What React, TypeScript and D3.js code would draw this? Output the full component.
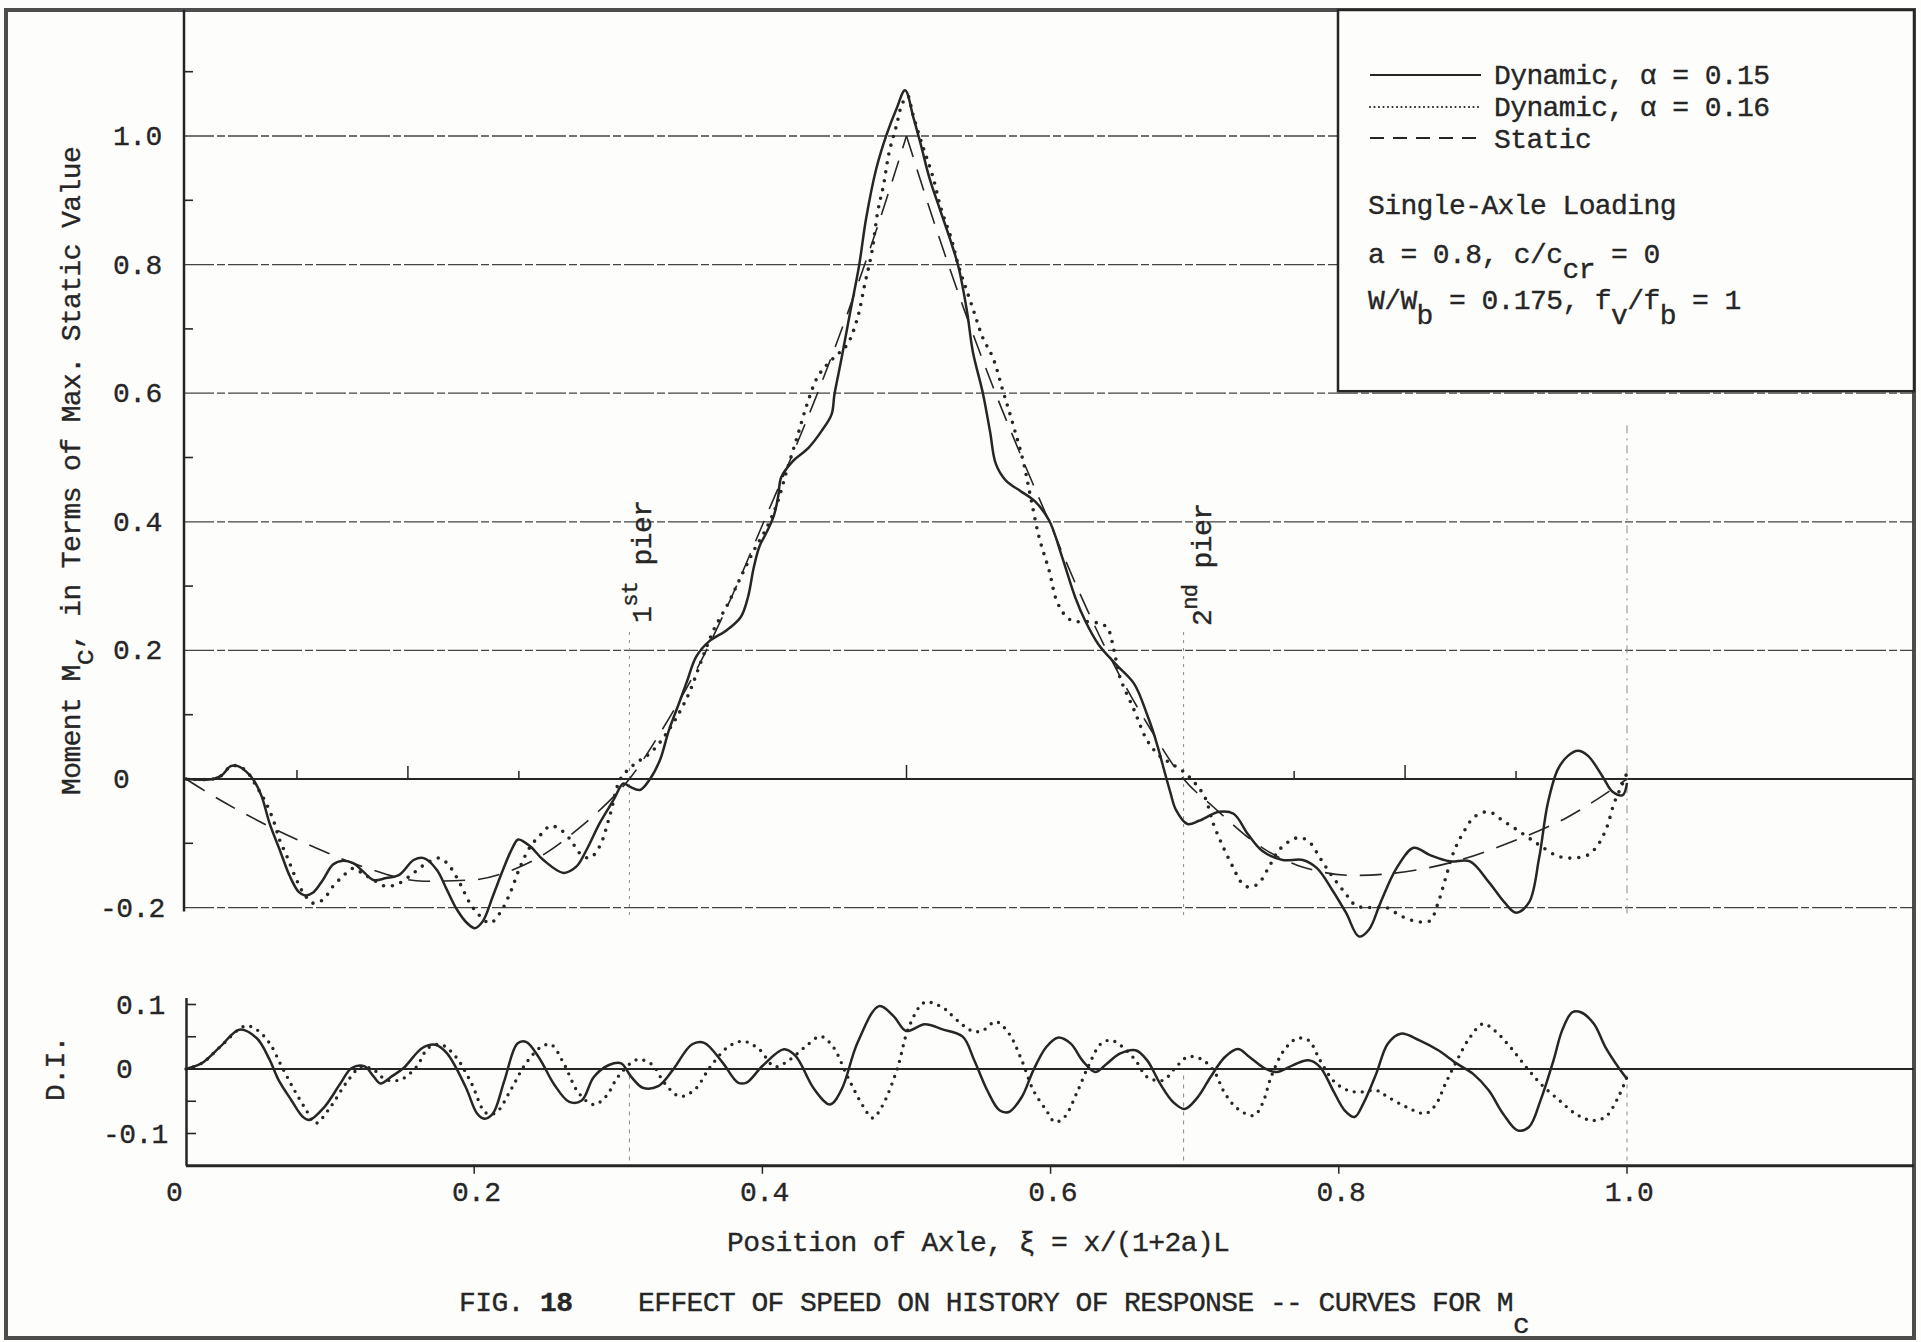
import React from 'react';
import * as d3 from 'd3';

type P = [number, number];

// ---------- tick values / labels ----------
const X_TICKS = [0.2, 0.4, 0.6, 0.8, 1.0];
const X_TICK_LABELS = ['0', '0.2', '0.4', '0.6', '0.8', '1.0'];
const X_LABEL_VALUES = [0, 0.2, 0.4, 0.6, 0.8, 1.0];
const M_GRID = [1.0, 0.8, 0.6, 0.4, 0.2, 0, -0.2];
const M_GRID_LABELS = ['1.0', '0.8', '0.6', '0.4', '0.2', '0', '-0.2'];
const M_MINOR = [1.1, 0.9, 0.7, 0.5, 0.3, 0.1, -0.1];
const DI_TICKS = [0.1, 0.05, 0, -0.05, -0.1];
const DI_LABEL_VALUES = [0.1, 0, -0.1];
const DI_LABELS = ['0.1', '0', '-0.1'];
const PIERS = [0.3077, 0.6923];
const ZERO_LINE_TICKS = [0.077, 0.154, 0.231, 0.5, 0.769, 0.846, 0.923];
const ZERO_LINE_TICK_LEN = [9, 13, 8, 14, 8, 14, 8];

// ---------- main panel: moment Mc ----------
const M_DYN_015: P[] = [
  [0, 0], [0.019, 0.0], [0.025, 0.006], [0.031, 0.02], [0.036, 0.02], [0.042, 0.011], [0.047, -0.002],
  [0.0525, -0.027], [0.058, -0.069], [0.065, -0.11], [0.072, -0.151], [0.078, -0.175], [0.0826, -0.181],
  [0.088, -0.177], [0.095, -0.157], [0.102, -0.133], [0.109, -0.127], [0.116, -0.131], [0.123, -0.144],
  [0.13, -0.157], [0.139, -0.154], [0.148, -0.149], [0.158, -0.126], [0.165, -0.123], [0.174, -0.141],
  [0.181, -0.172], [0.188, -0.203], [0.195, -0.224], [0.2005, -0.232], [0.206, -0.221], [0.213, -0.182],
  [0.22, -0.141], [0.227, -0.105], [0.2306, -0.094], [0.239, -0.105], [0.248, -0.126], [0.262, -0.146],
  [0.271, -0.136], [0.278, -0.11], [0.287, -0.069], [0.2966, -0.033], [0.3035, -0.007], [0.308, -0.012],
  [0.315, -0.017], [0.322, 0.0], [0.329, 0.03], [0.335, 0.075], [0.342, 0.117], [0.348, 0.154],
  [0.354, 0.19], [0.363, 0.214], [0.375, 0.231], [0.385, 0.252], [0.39, 0.283], [0.394, 0.329],
  [0.398, 0.362], [0.403, 0.384], [0.408, 0.41], [0.411, 0.44], [0.413, 0.469], [0.421, 0.494],
  [0.432, 0.515], [0.441, 0.541], [0.448, 0.567], [0.45, 0.598], [0.455, 0.655], [0.461, 0.727],
  [0.467, 0.797], [0.472, 0.872], [0.479, 0.949], [0.486, 1.001], [0.493, 1.042], [0.499, 1.071],
  [0.505, 1.027], [0.51, 0.986], [0.516, 0.934], [0.523, 0.887], [0.53, 0.841], [0.536, 0.797],
  [0.542, 0.727], [0.546, 0.665], [0.553, 0.6], [0.558, 0.54], [0.562, 0.49], [0.569, 0.464],
  [0.579, 0.448], [0.589, 0.432], [0.599, 0.402], [0.608, 0.345], [0.617, 0.283], [0.624, 0.246],
  [0.633, 0.21], [0.645, 0.179], [0.658, 0.148], [0.667, 0.1], [0.671, 0.075], [0.675, 0.045],
  [0.679, 0.012], [0.683, -0.02], [0.687, -0.048], [0.695, -0.07], [0.703, -0.065], [0.717, -0.051],
  [0.727, -0.054], [0.737, -0.086], [0.747, -0.112], [0.761, -0.126], [0.775, -0.126], [0.785, -0.139],
  [0.795, -0.171], [0.805, -0.208], [0.814, -0.245], [0.821, -0.234], [0.829, -0.192], [0.84, -0.139],
  [0.852, -0.107], [0.863, -0.118], [0.877, -0.128], [0.891, -0.128], [0.904, -0.16], [0.915, -0.192],
  [0.923, -0.208], [0.932, -0.192], [0.939, -0.123], [0.945, -0.038], [0.952, 0.015], [0.959, 0.036],
  [0.966, 0.044], [0.973, 0.036], [0.983, 0.004], [0.99, -0.02], [0.997, -0.025], [1.0, -0.006],
];

const M_DYN_016: P[] = [
  [0, 0], [0.019, 0.0], [0.025, 0.006], [0.031, 0.02], [0.036, 0.02], [0.042, 0.012], [0.049, -0.012],
  [0.055, -0.035], [0.0606, -0.064], [0.065, -0.095], [0.07, -0.12], [0.0756, -0.151], [0.0814, -0.177],
  [0.088, -0.193], [0.095, -0.188], [0.102, -0.167], [0.109, -0.151], [0.116, -0.139], [0.122, -0.146],
  [0.13, -0.157], [0.139, -0.167], [0.148, -0.162], [0.158, -0.146], [0.167, -0.131], [0.176, -0.123],
  [0.183, -0.136], [0.19, -0.162], [0.197, -0.193], [0.204, -0.213], [0.211, -0.224], [0.218, -0.208],
  [0.225, -0.177], [0.232, -0.136], [0.239, -0.105], [0.246, -0.087], [0.253, -0.073], [0.26, -0.079],
  [0.267, -0.095], [0.273, -0.115], [0.28, -0.123], [0.287, -0.105], [0.294, -0.058], [0.301, -0.002],
  [0.308, 0.017], [0.315, 0.029], [0.323, 0.042], [0.335, 0.076], [0.348, 0.128], [0.357, 0.18],
  [0.366, 0.231], [0.376, 0.272], [0.385, 0.314], [0.394, 0.355], [0.403, 0.391], [0.41, 0.427],
  [0.417, 0.48], [0.424, 0.531], [0.431, 0.583], [0.438, 0.624], [0.445, 0.645], [0.452, 0.66],
  [0.459, 0.676], [0.466, 0.717], [0.471, 0.769], [0.476, 0.82], [0.48, 0.882], [0.484, 0.923],
  [0.488, 0.975], [0.493, 1.016], [0.497, 1.05], [0.501, 1.062], [0.504, 1.037], [0.511, 0.986],
  [0.518, 0.939], [0.524, 0.887], [0.531, 0.841], [0.536, 0.799], [0.546, 0.732], [0.553, 0.686],
  [0.56, 0.655], [0.567, 0.603], [0.574, 0.551], [0.581, 0.494], [0.586, 0.44], [0.592, 0.376],
  [0.599, 0.324], [0.605, 0.273], [0.614, 0.247], [0.63, 0.244], [0.639, 0.236], [0.644, 0.2],
  [0.648, 0.159], [0.658, 0.107], [0.667, 0.06], [0.676, 0.035], [0.683, 0.025], [0.693, 0.01],
  [0.7, -0.006], [0.707, -0.028], [0.713, -0.07], [0.72, -0.107], [0.727, -0.139], [0.732, -0.16],
  [0.737, -0.168], [0.744, -0.163], [0.751, -0.139], [0.758, -0.112], [0.766, -0.0965], [0.773, -0.091],
  [0.78, -0.099], [0.787, -0.123], [0.795, -0.15], [0.804, -0.176], [0.812, -0.197], [0.822, -0.2],
  [0.833, -0.2], [0.843, -0.213], [0.853, -0.221], [0.863, -0.221], [0.869, -0.192], [0.874, -0.155],
  [0.88, -0.112], [0.887, -0.081], [0.894, -0.059], [0.904, -0.051], [0.914, -0.065], [0.925, -0.081],
  [0.935, -0.0965], [0.942, -0.107], [0.952, -0.12], [0.962, -0.123], [0.973, -0.118], [0.98, -0.102],
  [0.986, -0.075], [0.991, -0.038], [0.996, -0.012], [1.0, 0.0095],
];

const M_STATIC_LEFT: P[] = [
  [0, 0], [0.012, -0.017], [0.051, -0.066], [0.088, -0.105], [0.125, -0.138], [0.165, -0.159],
  [0.199, -0.157], [0.227, -0.141], [0.25, -0.115], [0.273, -0.076], [0.292, -0.038], [0.3077, 0],
  [0.33, 0.075], [0.36, 0.195], [0.38, 0.29], [0.4, 0.395], [0.42, 0.5], [0.44, 0.61], [0.46, 0.73],
  [0.48, 0.86], [0.5, 1.0],
];
const M_STATIC_RIGHT: P[] = [
  [0.5, 1.0], [0.52, 0.86], [0.54, 0.73], [0.56, 0.61], [0.58, 0.5], [0.6, 0.395], [0.62, 0.29],
  [0.64, 0.195], [0.67, 0.075], [0.6923, 0], [0.713, -0.0435], [0.747, -0.107], [0.771, -0.134],
  [0.812, -0.15], [0.836, -0.147], [0.881, -0.128], [0.915, -0.102], [0.959, -0.059], [1.0, 0],
];

// ---------- lower panel: D.I. ----------
const DI_DYN_015: P[] = [
  [0, 0], [0.011, 0.009], [0.024, 0.035], [0.037, 0.061], [0.049, 0.048], [0.058, 0.0145], [0.064, -0.016],
  [0.073, -0.048], [0.081, -0.074], [0.0855, -0.079], [0.096, -0.059], [0.107, -0.023], [0.115, 0.0015],
  [0.124, 0.004], [0.13, -0.011], [0.135, -0.0225], [0.143, -0.011], [0.151, 0.0015], [0.164, 0.0325],
  [0.173, 0.0375], [0.181, 0.0245], [0.194, -0.0275], [0.202, -0.069], [0.207, -0.077], [0.213, -0.069],
  [0.221, -0.0175], [0.23, 0.0395], [0.236, 0.042], [0.245, 0.0175], [0.2555, -0.024], [0.266, -0.051],
  [0.2746, -0.0488], [0.283, -0.0124], [0.2935, 0.0062], [0.302, 0.0088], [0.3086, -0.011], [0.317, -0.029],
  [0.3277, -0.0266], [0.338, -0.001], [0.351, 0.038], [0.3596, 0.0406], [0.3724, 0.0098], [0.383, -0.021],
  [0.389, -0.021], [0.4, 0.0046], [0.415, 0.0305], [0.423, 0.0202], [0.436, -0.0315], [0.447, -0.055],
  [0.455, -0.0315], [0.466, 0.0406], [0.481, 0.0975], [0.491, 0.082], [0.4998, 0.0589], [0.5126, 0.0693],
  [0.525, 0.0615], [0.539, 0.0502], [0.547, 0.0136], [0.556, -0.033], [0.5645, -0.064], [0.571, -0.0667],
  [0.58, -0.0434], [0.588, -0.0021], [0.597, 0.0341], [0.605, 0.0486], [0.614, 0.0393], [0.622, 0.0134],
  [0.631, -0.0047], [0.639, 0.0083], [0.648, 0.0238], [0.659, 0.029], [0.667, 0.0134], [0.676, -0.0228],
  [0.685, -0.0512], [0.693, -0.062], [0.702, -0.044], [0.711, -0.0124], [0.721, 0.0186], [0.73, 0.031],
  [0.738, 0.0186], [0.749, 0.0005], [0.757, -0.0047], [0.768, 0.0057], [0.779, 0.0134], [0.787, 0.003],
  [0.796, -0.033], [0.804, -0.064], [0.811, -0.0744], [0.817, -0.0537], [0.826, -0.0072], [0.834, 0.0393],
  [0.843, 0.0548], [0.856, 0.0445], [0.869, 0.029], [0.882, 0.0083], [0.893, -0.0072], [0.904, -0.033],
  [0.914, -0.0693], [0.924, -0.0951], [0.932, -0.09], [0.94, -0.0486], [0.949, 0.0134], [0.955, 0.0599],
  [0.962, 0.088], [0.968, 0.088], [0.977, 0.07], [0.985, 0.034], [0.994, 0.0026], [1.0, -0.0155],
];

const DI_DYN_016: P[] = [
  [0, 0], [0.011, 0.009], [0.024, 0.035], [0.041, 0.0667], [0.049, 0.061], [0.058, 0.04], [0.0664, 0.004],
  [0.075, -0.032], [0.0834, -0.0636], [0.0898, -0.0843], [0.1004, -0.0584], [0.111, -0.0222], [0.1217, 0.0036],
  [0.13, -0.001], [0.1387, -0.0165], [0.149, -0.0165], [0.16, 0.0036], [0.168, 0.0325], [0.177, 0.0377],
  [0.187, 0.0196], [0.198, -0.0217], [0.208, -0.068], [0.215, -0.068], [0.2255, -0.032], [0.236, 0.0093],
  [0.247, 0.035], [0.2535, 0.0377], [0.262, 0.0093], [0.2725, -0.0372], [0.283, -0.0553], [0.2915, -0.0424],
  [0.3, -0.0114], [0.313, 0.0145], [0.3235, 0.0067], [0.332, -0.0217], [0.3426, -0.0424], [0.353, -0.032],
  [0.3639, 0.0036], [0.3766, 0.035], [0.387, 0.0429], [0.398, 0.03], [0.4085, 0.0036], [0.419, 0.0145],
  [0.43, 0.035], [0.4404, 0.0505], [0.4489, 0.035], [0.459, -0.0114], [0.47, -0.058], [0.4765, -0.076],
  [0.483, -0.058], [0.4934, -0.001], [0.502, 0.0669], [0.5126, 0.1033], [0.525, 0.0955], [0.53, 0.0863],
  [0.539, 0.0682], [0.547, 0.0579], [0.5535, 0.0605], [0.562, 0.0734], [0.571, 0.0553], [0.58, 0.0134],
  [0.588, -0.033], [0.597, -0.064], [0.603, -0.0822], [0.6097, -0.0744], [0.618, -0.038], [0.627, 0.0083],
  [0.635, 0.0393], [0.642, 0.0445], [0.65, 0.0341], [0.659, 0.0134], [0.667, -0.0124], [0.678, -0.0176],
  [0.687, 0.003], [0.695, 0.0186], [0.704, 0.016], [0.713, -0.002], [0.721, -0.038], [0.73, -0.062],
  [0.741, -0.072], [0.747, -0.0537], [0.753, -0.0124], [0.762, 0.029], [0.771, 0.0472], [0.779, 0.0445],
  [0.787, 0.0134], [0.796, -0.0176], [0.804, -0.031], [0.813, -0.036], [0.826, -0.0331], [0.834, -0.0434],
  [0.847, -0.059], [0.86, -0.069], [0.867, -0.0563], [0.874, -0.0228], [0.882, 0.0134], [0.891, 0.049],
  [0.9, 0.07], [0.908, 0.0599], [0.919, 0.034], [0.93, 0.0031], [0.94, -0.0228], [0.953, -0.0486],
  [0.964, -0.069], [0.975, -0.0796], [0.985, -0.0744], [0.994, -0.0434], [1.0, -0.0124],
];

// ---------- styling ----------
const INK = '#262626';
const GRID = '#444444';
const FONT = "'Liberation Mono', 'DejaVu Sans Mono', monospace";
const FS = 28;
const LS = -0.6;

export default function App() {
  const x = d3.scaleLinear().domain([0, 1]).range([186, 1627]);
  const yM = d3.scaleLinear().domain([0, 1]).range([779, 136]);
  const yD = d3.scaleLinear().domain([0, 0.1]).range([1069, 1004.5]);

  const frame = { x0: 6, y0: 10, x1: 1914, y1: 1338 };
  const legendX = 1338;
  const axisX = 184;

  const lineM = d3.line<P>().x(d => x(d[0])).y(d => yM(d[1])).curve(d3.curveCatmullRom.alpha(0.5));
  const lineMStatic = d3.line<P>().x(d => x(d[0])).y(d => yM(d[1])).curve(d3.curveMonotoneX);
  const lineD = d3.line<P>().x(d => x(d[0])).y(d => yD(d[1])).curve(d3.curveCatmullRom.alpha(0.5));

  const txt = {
    fontFamily: FONT, fontSize: FS, letterSpacing: LS, fill: INK, stroke: INK, strokeWidth: 0.35,
  } as React.CSSProperties;

  return (
    <svg width={1921} height={1342} style={{ position: 'fixed', left: 0, top: 0, background: '#fff' }}>
      <rect x={0} y={0} width={1921} height={1342} fill="#fdfdfc" />
      {/* outer frame */}
      <rect x={frame.x0} y={frame.y0} width={frame.x1 - frame.x0} height={frame.y1 - frame.y0}
        fill="none" stroke="#4d4d4d" strokeWidth={4} />

      {/* main horizontal grid */}
      {M_GRID.map((v, i) => (
        <line key={'g' + i} x1={axisX} x2={v > 0.65 ? legendX : frame.x1} y1={yM(v)} y2={yM(v)}
          stroke={v === 0 ? INK : GRID} strokeWidth={v === 0 ? 2 : 1.3}
          strokeDasharray={v === 0 ? undefined : '30 3 8 3'} />
      ))}
      {/* minor ticks */}
      {M_MINOR.map((v, i) => (
        <line key={'mt' + i} x1={axisX} x2={axisX + 9} y1={yM(v)} y2={yM(v)} stroke={INK} strokeWidth={1.6} />
      ))}
      {/* ticks on zero line */}
      {ZERO_LINE_TICKS.map((v, i) => (
        <line key={'zt' + i} x1={x(v)} x2={x(v)} y1={yM(0)} y2={yM(0) - ZERO_LINE_TICK_LEN[i]} stroke={INK} strokeWidth={1.5} />
      ))}
      {/* vertical faint lines: piers and xi = 1 */}
      {PIERS.map((p, i) => (
        <line key={'pv' + i} x1={x(p)} x2={x(p)} y1={632} y2={yM(-0.2) + 10}
          stroke="#8a8a8a" strokeWidth={1} strokeDasharray="3 5" />
      ))}
      <line x1={x(1)} x2={x(1)} y1={yM(0.55)} y2={yM(-0.2) + 10} stroke="#8a8a8a" strokeWidth={1} strokeDasharray="8 5 2 5" />

      {/* main left axis */}
      <line x1={axisX} x2={axisX} y1={frame.y0} y2={yM(-0.2) + 4} stroke={INK} strokeWidth={2.5} />

      {/* main y labels */}
      {M_GRID.map((v, i) => (
        <text key={'yl' + i} x={M_GRID_LABELS[i].startsWith('-') ? 100 : 113} y={yM(v) + 9} style={txt}>
          {M_GRID_LABELS[i]}
        </text>
      ))}

      {/* main y axis title */}
      <text transform={`translate(80, 795) rotate(-90)`} style={txt}>
        <tspan>Moment M</tspan>
        <tspan dy={13}>c</tspan>
        <tspan dy={-13}>, in Terms of Max. Static Value</tspan>
      </text>

      {/* pier labels */}
      <text transform={`translate(${x(PIERS[0]) + 22}, 623) rotate(-90)`} style={txt}>
        <tspan>1</tspan>
        <tspan dy={-14} fontSize={22}>st</tspan>
        <tspan dy={14}> pier</tspan>
      </text>
      <text transform={`translate(${x(PIERS[1]) + 27}, 626) rotate(-90)`} style={txt}>
        <tspan>2</tspan>
        <tspan dy={-14} fontSize={22}>nd</tspan>
        <tspan dy={14}> pier</tspan>
      </text>

      {/* main curves */}
      <path d={lineMStatic(M_STATIC_LEFT) || ''} fill="none" stroke={INK} strokeWidth={1.6} strokeDasharray="22 13" />
      <path d={lineMStatic(M_STATIC_RIGHT) || ''} fill="none" stroke={INK} strokeWidth={1.6} strokeDasharray="22 13" />
      <path d={lineM(M_DYN_016) || ''} fill="none" stroke={INK} strokeWidth={3.6} strokeLinecap="round" strokeDasharray="0 9" />
      <path d={lineM(M_DYN_015) || ''} fill="none" stroke={INK} strokeWidth={2.5} strokeLinejoin="round" />

      {/* legend box */}
      <rect x={legendX} y={frame.y0} width={frame.x1 - legendX} height={yM(0.6) - 2 - frame.y0}
        fill="#fdfdfc" stroke={INK} strokeWidth={2.5} />
      <line x1={1370} x2={1481} y1={75} y2={75} stroke={INK} strokeWidth={2} />
      <line x1={1370} x2={1481} y1={107} y2={107} stroke={INK} strokeWidth={2.2} strokeLinecap="round" strokeDasharray="0 4.5" />
      <line x1={1370} x2={1481} y1={138} y2={138} stroke={INK} strokeWidth={1.8} strokeDasharray="14 9" />
      <text x={1494} y={84} style={txt}>Dynamic, α = 0.15</text>
      <text x={1494} y={116} style={txt}>Dynamic, α = 0.16</text>
      <text x={1494} y={148} style={txt}>Static</text>
      <text x={1368} y={214} style={txt}>Single-Axle Loading</text>
      <text x={1368} y={263} style={txt}>
        <tspan>a = 0.8, c/c</tspan>
        <tspan dy={15}>cr</tspan>
        <tspan dy={-15}> = 0</tspan>
      </text>
      <text x={1368} y={309} style={txt}>
        <tspan>W/W</tspan>
        <tspan dy={15}>b</tspan>
        <tspan dy={-15}> = 0.175, f</tspan>
        <tspan dy={15}>v</tspan>
        <tspan dy={-15}>/f</tspan>
        <tspan dy={15}>b</tspan>
        <tspan dy={-15}> = 1</tspan>
      </text>

      {/* DI panel */}
      <line x1={x(0)} x2={frame.x1} y1={yD(0)} y2={yD(0)} stroke={INK} strokeWidth={2} />
      {PIERS.concat([1]).map((p, i) => (
        <line key={'dv' + i} x1={x(p)} x2={x(p)} y1={yD(-0.01)} y2={yD(-0.15)}
          stroke="#8a8a8a" strokeWidth={1} strokeDasharray="4 5" />
      ))}
      {DI_TICKS.map((v, i) => (
        <line key={'dt' + i} x1={x(0)} x2={x(0) + 10} y1={yD(v)} y2={yD(v)} stroke={INK} strokeWidth={1.6} />
      ))}
      <line x1={x(0) + 0.5} x2={x(0) + 0.5} y1={yD(0.11)} y2={yD(-0.15)} stroke={INK} strokeWidth={2.5} />
      <line x1={x(0)} x2={frame.x1} y1={yD(-0.15)} y2={yD(-0.15)} stroke={INK} strokeWidth={3} />
      {DI_LABEL_VALUES.map((v, i) => (
        <text key={'dl' + i} x={DI_LABELS[i].startsWith('-') ? 103 : 116} y={yD(v) + 9} style={txt}>
          {DI_LABELS[i]}
        </text>
      ))}
      <text transform={`translate(64, 1101) rotate(-90)`} style={txt}>D.I.</text>
      <path d={lineD(DI_DYN_016) || ''} fill="none" stroke={INK} strokeWidth={3.4} strokeLinecap="round" strokeDasharray="0 8" />
      <path d={lineD(DI_DYN_015) || ''} fill="none" stroke={INK} strokeWidth={2.5} strokeLinejoin="round" />

      {/* x axis ticks and labels */}
      {X_TICKS.map((v, i) => (
        <line key={'xt' + i} x1={x(v)} x2={x(v)} y1={yD(-0.15)} y2={yD(-0.15) + 8} stroke={INK} strokeWidth={1.5} />
      ))}
      {X_LABEL_VALUES.map((v, i) => (
        <text key={'xl' + i} x={v === 0 ? x(v) - 12 : x(v) + 2} y={1201} textAnchor="middle" style={txt}>
          {X_TICK_LABELS[i]}
        </text>
      ))}
      <text x={727} y={1251} style={txt}>Position of Axle, ξ = x/(1+2a)L</text>

      {/* caption */}
      <text x={459} y={1311} style={txt}>FIG. <tspan fontWeight="bold">18</tspan></text>
      <text x={638} y={1311} style={txt}>
        <tspan>EFFECT OF SPEED ON HISTORY OF RESPONSE -- CURVES FOR M</tspan>
        <tspan dy={22}>c</tspan>
      </text>
    </svg>
  );
}
